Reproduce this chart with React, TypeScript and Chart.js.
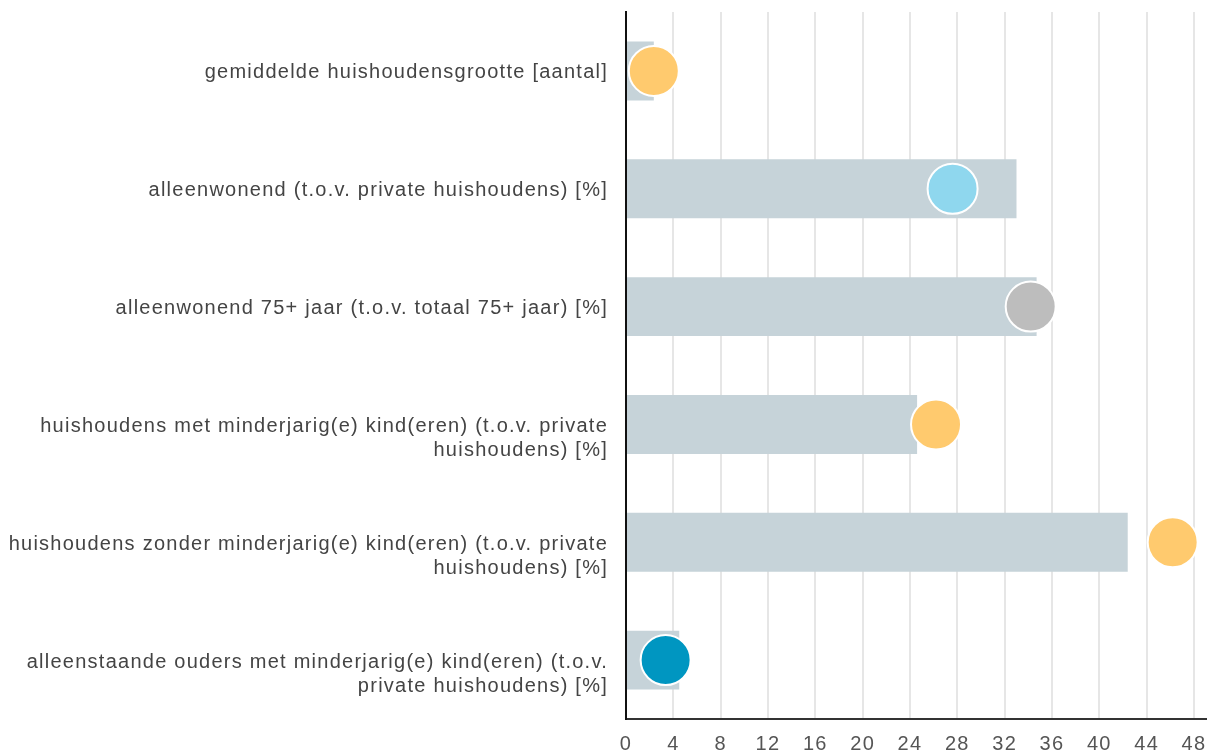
import React, { useEffect, useRef } from "react";
import { Chart, registerables } from "chart.js";

Chart.register(...registerables);

const categories: string[][] = [
  ["gemiddelde huishoudensgrootte [aantal]", ""],
  ["alleenwonend (t.o.v. private huishoudens) [%]", ""],
  ["alleenwonend 75+ jaar (t.o.v. totaal 75+ jaar) [%]", ""],
  ["huishoudens met minderjarig(e) kind(eren) (t.o.v. private", "huishoudens) [%]"],
  ["huishoudens zonder minderjarig(e) kind(eren) (t.o.v. private", "huishoudens) [%]"],
  ["alleenstaande ouders met minderjarig(e) kind(eren) (t.o.v.", "private huishoudens) [%]"],
];

const barValues: number[] = [2.35, 33.0, 34.7, 24.6, 42.4, 4.5];
const pointValues: number[] = [2.35, 27.6, 34.2, 26.2, 46.2, 3.35];
const pointColors: string[] = ["#FFCA6E", "#8FD7EE", "#BDBDBD", "#FFCA6E", "#FFCA6E", "#0096C1"];

const xTicks: number[] = [0, 4, 8, 12, 16, 20, 24, 28, 32, 36, 40, 44, 48];
const xMin = 0;
const xMax = 49.1;

const SPACING = "1.25px";

const spacingPlugin = {
  id: "letterSpacing",
  beforeUpdate(chart: any) {
    (chart.ctx as any).letterSpacing = SPACING;
  },
  beforeLayout(chart: any) {
    (chart.ctx as any).letterSpacing = SPACING;
  },
  beforeDraw(chart: any) {
    (chart.ctx as any).letterSpacing = SPACING;
  },
};

export default function App() {
  const ref = useRef<HTMLCanvasElement | null>(null);

  useEffect(() => {
    document.body.style.margin = "0";
    const canvas = ref.current;
    if (!canvas) return;
    const chart = new Chart(canvas, {
      type: "bar",
      plugins: [spacingPlugin],
      data: {
        labels: categories,
        datasets: [
          {
            type: "line",
            data: pointValues,
            showLine: false,
            pointRadius: 25,
            pointHoverRadius: 25,
            pointBackgroundColor: pointColors,
            pointBorderColor: "#ffffff",
            pointBorderWidth: 2,
            order: 0,
          } as any,
          {
            type: "bar",
            data: barValues,
            backgroundColor: "#C6D3D9",
            borderWidth: 0,
            barPercentage: 0.5,
            categoryPercentage: 1,
            order: 1,
          },
        ],
      },
      options: {
        indexAxis: "y",
        animation: false,
        responsive: true,
        maintainAspectRatio: false,
        layout: { autoPadding: false, padding: { top: 12, right: 0, bottom: 0, left: 0 } },
        plugins: {
          legend: { display: false },
          tooltip: { enabled: false },
        },
        scales: {
          x: {
            min: xMin,
            max: xMax,
            afterBuildTicks: (scale: any) => {
              scale.ticks = xTicks.map((v) => ({ value: v }));
            },
            afterFit: (scale: any) => {
              scale.paddingLeft = 0;
              scale.paddingRight = 0;
              scale.height = 34;
            },
            ticks: {
              color: "#555555",
              font: { family: "Liberation Sans", size: 20, lineHeight: 1 },
              padding: 15,
            },
            grid: {
              color: "#E6E6E6",
              lineWidth: 2,
              drawTicks: false,
            },
            border: { display: true, color: "#333333", width: 2 },
          },
          y: {
            afterFit: (scale: any) => {
              scale.paddingTop = 0;
              scale.paddingBottom = 0;
              scale.width = 626;
            },
            ticks: {
              color: "#444444",
              font: { family: "Liberation Sans", size: 20, lineHeight: 1.2 },
              padding: 18,
              labelOffset: 14,
            },
            grid: { display: false, drawTicks: false },
            border: { display: true, color: "#111111", width: 2 },
          },
        },
      },
    });
    return () => chart.destroy();
  }, []);

  return (
    <div style={{ position: "fixed", left: 0, top: 0, width: 1207, height: 753 }}>
      <canvas ref={ref} />
    </div>
  );
}
